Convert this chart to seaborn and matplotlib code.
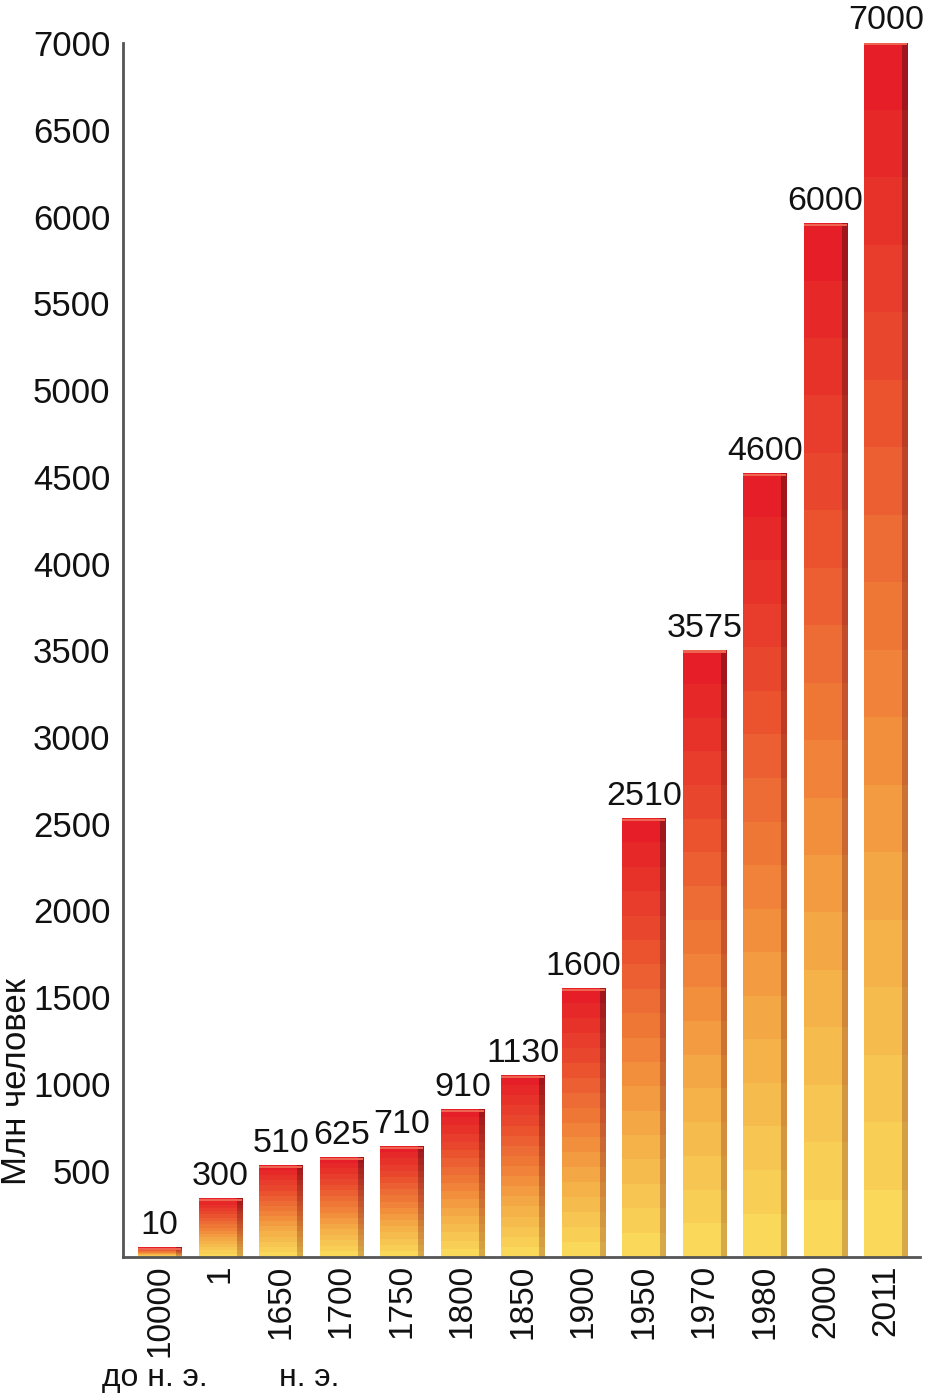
"""World population growth, bar chart with warm gradient bars."""
import matplotlib
matplotlib.use('Agg')
import matplotlib.pyplot as plt
from matplotlib.colors import LinearSegmentedColormap
from matplotlib.patches import Rectangle
import numpy as np
import seaborn as sns

# years on the x axis (10000 BC, then AD)
years = ['10000', '1', '1650', '1700', '1750', '1800', '1850',
         '1900', '1950', '1970', '1980', '2000', '2011']
# bar heights as drawn in the picture (mln people)
heights = [55, 335, 525, 572, 635, 849, 1045, 1547, 2529, 3499, 4515, 5958, 7000]
# numbers written above the bars
value_labels = ['10', '300', '510', '625', '710', '910', '1130', '1600',
                '2510', '3575', '4600', '6000', '7000']
y_ticks = list(range(500, 7001, 500))

sns.set_style('white')
plt.rcParams['font.family'] = ['Liberation Sans', 'DejaVu Sans']
text_color = '#111111'

fig = plt.figure(figsize=(9.31, 13.94), dpi=100)
ax = fig.add_axes([0.132, 0.098, 0.856, 0.871])

sns.barplot(x=years, y=heights, color='#F08838', saturation=1, width=0.71, ax=ax)

# stepped vertical gradient: yellow at the bottom, red at the top
front = LinearSegmentedColormap.from_list(
    'front', ['#F9D85A', '#F5B048', '#F07E38', '#EA4A2E', '#E51E28'])
side = LinearSegmentedColormap.from_list(
    'side', ['#D6A848', '#D2843A', '#C85A2E', '#B83626', '#A0161C'])
steps = np.linspace(0, 1, 18).reshape(-1, 1)

for bar in ax.patches:
    x0, w, h = bar.get_x(), bar.get_width(), bar.get_height()
    side_w = w * 0.12
    ax.imshow(steps, cmap=front, origin='lower', aspect='auto',
              interpolation='nearest', extent=(x0, x0 + w - side_w, 0, h), zorder=2)
    ax.imshow(steps, cmap=side, origin='lower', aspect='auto',
              interpolation='nearest', extent=(x0 + w - side_w, x0 + w, 0, h), zorder=2)
    # thin light bevel on top of the bar
    ax.add_patch(Rectangle((x0, h - 12), w, 12, facecolor='#EE6450',
                           edgecolor='none', zorder=2.5))
    bar.set_alpha(0)

ax.bar_label(ax.containers[0], labels=value_labels, padding=5,
             fontsize=24.5, color=text_color)

ax.set_xlim(-0.61, 12.56)
ax.set_ylim(0, 7000)
ax.set_yticks(y_ticks)
ax.set_yticklabels([str(t) for t in y_ticks])

for name in ['top', 'right']:
    ax.spines[name].set_visible(False)
for name in ['left', 'bottom']:
    ax.spines[name].set_color('#555555')
    ax.spines[name].set_linewidth(2)
    ax.spines[name].set_zorder(3)

ax.tick_params(axis='y', direction='inout', length=10, width=1.5,
               color='#555555', labelsize=25, labelcolor=text_color, pad=4)
ax.tick_params(axis='x', length=0, labelsize=24, labelcolor=text_color,
               labelrotation=90, pad=5)

ax.set_xlabel('')
ax.set_ylabel('Млн человек', fontsize=25, color=text_color)
ax.yaxis.set_label_coords(-0.113, 0.145)

fig.text(155 / 931, 1 - 1386 / 1394, 'до н. э.', ha='center', va='baseline',
         fontsize=23, color=text_color)
fig.text(309 / 931, 1 - 1386 / 1394, 'н. э.', ha='center', va='baseline',
         fontsize=23, color=text_color)

fig.savefig('out.png', dpi=100, facecolor='white')
